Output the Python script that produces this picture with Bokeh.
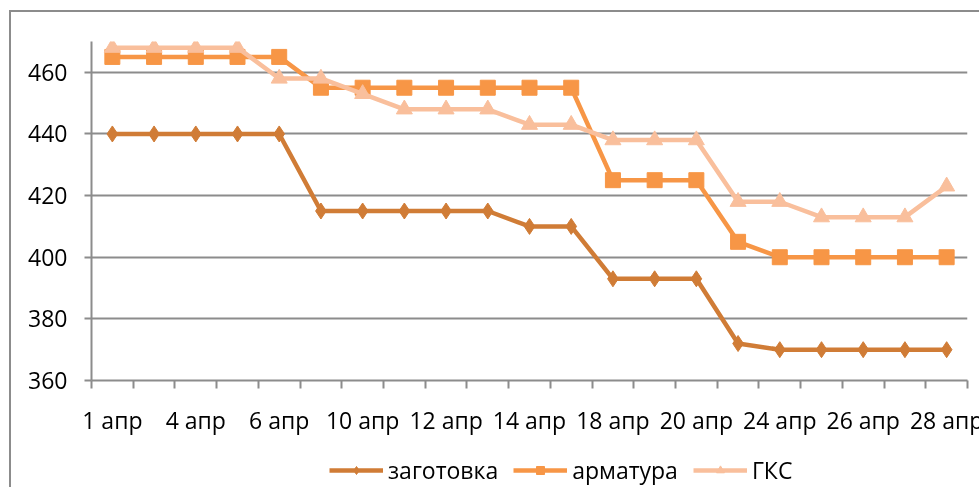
from bokeh.plotting import figure
from bokeh.layouts import column
from bokeh.models import FixedTicker, Legend, LegendItem, Range1d
from bokeh.embed import file_html
from bokeh.resources import INLINE

dates = ["1 апр", "3 апр", "4 апр", "5 апр", "6 апр", "9 апр", "10 апр", "11 апр",
         "12 апр", "13 апр", "14 апр", "17 апр", "18 апр", "19 апр", "20 апр",
         "23 апр", "24 апр", "25 апр", "26 апр", "27 апр", "28 апр"]
zagotovka = [440, 440, 440, 440, 440, 415, 415, 415, 415, 415, 410, 410, 393, 393, 393,
             372, 370, 370, 370, 370, 370]
armatura = [465, 465, 465, 465, 465, 455, 455, 455, 455, 455, 455, 455, 425, 425, 425,
            405, 400, 400, 400, 400, 400]
gks = [468, 468, 468, 468, 458, 458, 453, 448, 448, 448, 443, 443, 438, 438, 438,
       418, 418, 413, 413, 413, 423]
y_ticks = [360, 380, 400, 420, 440, 460]

FONT = "Open Sans"
FS = "23px"
GRID = "#8c8c8c"
x = list(range(len(dates)))

fig = figure(width=996, height=426,
             output_backend="svg", toolbar_location=None,
             x_range=Range1d(-0.5, len(dates) - 0.5), y_range=Range1d(360, 470),
             min_border_left=80, min_border_top=29, min_border_right=40, min_border_bottom=0)
fig.outline_line_color = None
fig.background_fill_color = "white"

# axes
fig.xaxis.ticker = FixedTicker(ticks=x[::2], minor_ticks=[i - 0.5 for i in range(len(dates) + 1)])
fig.xaxis.major_label_overrides = {i: dates[i] for i in x[::2]}
fig.xaxis.major_tick_line_color = None
fig.xaxis.minor_tick_line_color = GRID
fig.xaxis.minor_tick_line_width = 2
fig.xaxis.minor_tick_out = 8
fig.xaxis.minor_tick_in = 0
fig.xaxis.major_label_standoff = 15
fig.xaxis.axis_line_color = GRID
fig.xaxis.axis_line_width = 2

fig.yaxis.ticker = FixedTicker(ticks=y_ticks, minor_ticks=[])
fig.yaxis.major_tick_line_color = GRID
fig.yaxis.major_tick_line_width = 2
fig.yaxis.major_tick_out = 7
fig.yaxis.major_tick_in = 0
fig.yaxis.major_label_standoff = 17
fig.yaxis.axis_line_color = GRID
fig.yaxis.axis_line_width = 2

for ax in (fig.xaxis, fig.yaxis):
    ax.major_label_text_font = FONT
    ax.major_label_text_font_size = FS
    ax.major_label_text_color = "black"

fig.xgrid.grid_line_color = None
fig.ygrid.ticker = FixedTicker(ticks=y_ticks)
fig.ygrid.grid_line_color = GRID
fig.ygrid.grid_line_width = 2

series = [
    ("заготовка", zagotovka, "#D07C36", "diamond", 16),
    ("арматура", armatura, "#F79646", "square", 15),
    ("ГКС", gks, "#F9BF9C", "triangle", 16),
]

# legend strip below the chart (its own small figure, no axes)
leg = figure(width=996, height=60, output_backend="svg", toolbar_location=None,
             x_range=Range1d(0, 1), y_range=Range1d(0, 1),
             x_axis_location=None, y_axis_location=None,
             min_border=0, min_border_left=0, min_border_right=0,
             min_border_top=0, min_border_bottom=0)
leg.outline_line_color = None
leg.xgrid.grid_line_color = None
leg.ygrid.grid_line_color = None

items = []
for name, vals, color, marker, size in series:
    fig.line(x, vals, line_color=color, line_width=4.5)
    fig.scatter(x, vals, marker=marker, size=size, fill_color=color, line_color=color)
    # legend swatches (kept outside the visible range of the legend strip)
    ln = leg.line([-10, -9], [-10, -10], line_color=color, line_width=4.5)
    sc = leg.scatter([-10], [-10], marker=marker, size=size, fill_color=color, line_color=color)
    items.append(LegendItem(label=name, renderers=[ln, sc]))

legend = Legend(items=items, orientation="horizontal", location=(238, 12),
                label_text_font=FONT, label_text_font_size=FS, label_text_color="black",
                glyph_width=54, glyph_height=20, label_standoff=5, spacing=15,
                padding=0, margin=0, border_line_color=None, background_fill_alpha=0)
leg.add_layout(legend, "center")

p = column(fig, leg, spacing=0)
p.styles = {"position": "fixed", "left": "9px", "top": "10px",
            "border-left": "2px solid #8c8c8c", "border-top": "2px solid #8c8c8c"}

open("out.html", "w").write(file_html(p, INLINE))
